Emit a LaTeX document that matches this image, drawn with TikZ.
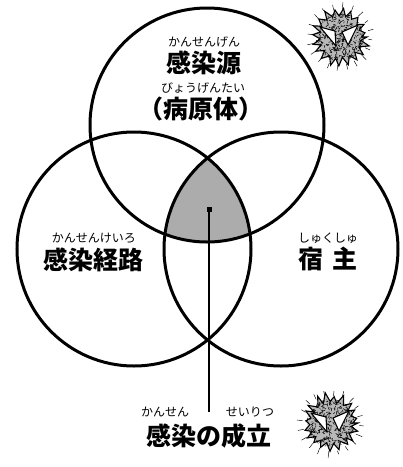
\documentclass[tikz,border=0pt]{standalone}
\usepackage{fontspec}
\newfontfamily\jp{Noto Sans CJK JP}
\usetikzlibrary{calc}
\begin{document}
\begin{tikzpicture}[x=1pt,y=-1pt,
  ring/.style={draw=black,line width=3pt},
  ruby/.style={font=\jp\fontsize{12}{12}\selectfont,inner sep=0pt},
  term/.style={font=\jp\bfseries\fontsize{25}{26}\selectfont,inner sep=0pt},
  virus/.pic={
    % spiky body
    \pgfmathsetseed{#1}
    \path[fill=gray!55,draw=black,line width=1.1pt,line join=miter]
      (0:27) \foreach \i in {1,...,39}{ -- ({\i*9.23}:{ifthenelse(isodd(\i),20+2*rnd,25+6*rnd)}) } -- cycle;
    % speckled texture
    \begin{scope}
      \clip (0,0) circle (24);
      \foreach \k in {1,...,420}{
        \draw[black,line width=0.5pt] ({rand*24},{rand*24}) -- ++({rnd*360}:{1+2.5*rnd});
      }
    \end{scope}
    % fine rays
    \foreach \i in {1,...,20}{
      \draw[black,line width=0.45pt] ({\i*18+5}:{27+2*rnd}) -- ({\i*18+5}:{32+3*rnd});
    }
    % angry eyes
    \draw[fill=white,line width=1.1pt,line join=round] (-20,-10) -- (-5,-6) -- (-4,9) -- cycle;
    \draw[fill=white,line width=1.1pt,line join=round] (2,-5) -- (18,-12) -- (8,8) -- cycle;
  }]
\useasboundingbox (0,0) rectangle (403,467);

\coordinate (ctop) at (207,125);
\coordinate (cleft) at (134,249);
\coordinate (cright) at (281,249);

% shared region of the three sets
\begin{scope}
  \clip (ctop) circle (117);
  \clip (cleft) circle (117);
  \fill[gray!65] (cright) circle (117);
\end{scope}

\draw[ring] (ctop) circle (117);
\draw[ring] (cleft) circle (117);
\draw[ring] (cright) circle (117);

% labels
\node[ruby] (rsrc) at (204,42) {かんせんげん};
\node[term] (src) at (204,63) {感染源};
\node[ruby] (rpath) at (203,88) {びょうげんたい};
\node[term] (path) at (201,109) {（病原体）};

\node[ruby] (rroute) at (94,238) {かんせんけいろ};
\node[term] (route) at (94,260) {感染経路};

\node[ruby] (rhost) at (328,238) {しゅくしゅ};
\node[term] (host) at (328,259) {宿\,\,主};

\node[ruby] (rinf) at (165,412) {かんせん};
\node[ruby] (restab) at (250,412) {せいりつ};
\node[term] (estab) at (209,436) {感染の成立};

% marker and leader
\node[fill=black,minimum size=5pt,inner sep=0pt] (dot) at (209,209) {};
\draw[line width=1.2pt] (dot.center) -- (dot.center |- restab.center);

% germs
\pic at (340,37) {virus=3};
\pic at (331,423) {virus=7};
\end{tikzpicture}
\end{document}
